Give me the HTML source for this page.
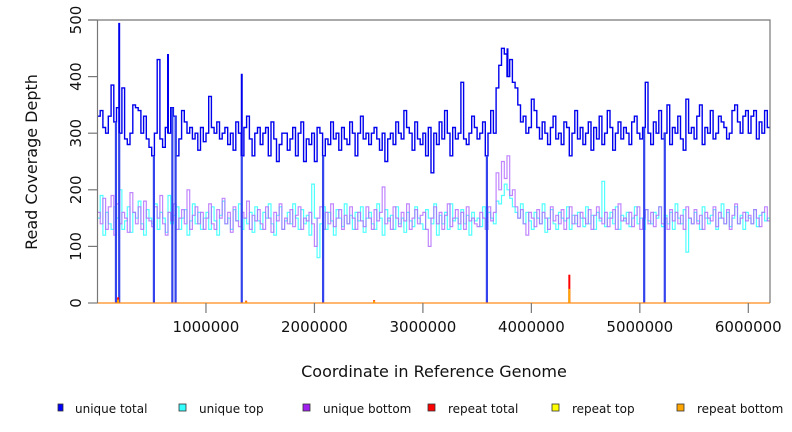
<!DOCTYPE html>
<html><head><meta charset="utf-8"><style>
html,body{margin:0;padding:0;background:#fff;}
svg{display:block;font-family:"DejaVu Sans","Liberation Sans",sans-serif;}
</style></head><body>
<svg id="chart" width="792" height="432" viewBox="0 0 792 432"></svg>
<script>
const step = 25000;
const uniqueTotal = [330,340,310,300,330,385,320,345,300,380,290,280,300,350,345,340,300,330,290,275,
260,300,430,290,275,310,300,345,330,260,290,340,320,300,310,290,300,270,310,285,
300,365,310,300,320,290,300,310,280,300,270,320,300,260,310,330,290,260,300,310,
280,300,310,260,320,290,250,280,300,300,270,290,310,260,300,320,250,290,280,300,
250,310,300,260,290,280,320,290,300,270,310,290,280,320,300,260,300,330,290,300,
280,300,310,290,270,300,250,290,300,280,320,300,290,340,310,300,270,320,290,280,
300,260,310,230,300,280,320,290,340,300,260,310,290,300,390,290,280,300,330,310,
290,300,320,260,300,340,300,380,420,450,440,400,430,390,380,350,320,330,300,310,
360,340,310,290,320,300,280,310,330,290,300,280,320,310,260,300,340,290,310,280,
300,320,270,310,290,330,280,300,340,310,270,300,320,290,310,300,280,320,330,300,
290,310,390,300,280,320,300,340,290,300,350,280,310,300,330,290,270,360,300,310,
290,330,350,280,310,300,340,290,300,330,320,310,290,300,340,350,320,300,330,340,
300,330,340,290,320,300,340,310];
const uniqueTop = [150,190,120,160,140,130,170,150,200,130,145,170,125,160,150,180,140,120,165,150,
140,175,130,160,150,125,190,140,155,170,130,150,165,120,145,175,140,160,130,150,
160,130,170,145,120,155,180,140,150,130,165,145,175,130,150,140,160,125,170,145,
130,160,150,175,140,120,155,170,130,145,160,140,175,150,130,165,140,155,120,210,
150,80,140,170,130,160,145,120,165,150,135,175,140,155,130,160,145,170,125,150,
160,140,130,175,150,120,165,145,155,130,170,140,150,125,160,145,135,170,150,140,
130,165,150,140,175,120,155,140,160,130,175,145,150,130,165,140,155,120,160,145,
150,135,170,130,160,150,140,180,175,190,210,200,185,170,160,150,175,140,160,145,
130,160,150,140,175,125,150,165,140,130,160,150,145,170,130,155,140,160,150,135,
170,140,155,130,160,145,215,135,150,160,140,170,130,155,145,160,135,150,170,140,
150,130,165,145,140,160,150,170,135,155,140,160,130,175,150,140,165,90,150,140,
160,145,130,170,150,140,155,165,130,150,175,140,160,135,150,170,140,155,130,160,
150,140,165,135,155,160,145,150];
const uniqueBottom = [160,140,185,130,170,190,120,175,140,160,150,125,195,160,140,170,130,180,150,145,
135,170,150,190,140,120,160,145,175,130,150,165,140,200,130,155,170,140,160,130,
150,175,140,130,165,150,185,140,160,125,170,145,135,160,150,180,130,155,145,165,
140,130,170,150,125,160,145,175,130,150,140,165,135,155,170,130,150,145,160,140,
100,150,170,130,160,140,175,135,150,165,130,155,140,170,150,130,160,145,135,170,
150,130,165,145,160,205,140,150,130,170,150,135,160,145,175,130,150,165,140,155,
160,130,100,150,170,140,160,130,155,175,135,150,165,140,160,130,170,145,150,140,
135,160,150,130,170,145,160,230,200,250,220,260,190,200,170,150,165,140,120,160,
150,135,165,140,160,150,130,170,145,155,140,165,130,150,170,140,155,135,160,150,
140,165,130,155,170,150,140,160,135,150,165,130,175,145,150,140,160,135,155,170,
130,150,165,140,160,135,155,170,140,150,130,165,145,160,140,155,130,170,150,140,
165,140,155,130,160,150,145,170,135,160,150,140,165,130,155,175,140,150,160,145,
155,140,165,150,135,160,170,145];
const dropX = [170000,200000,520000,690000,720000,1330000,2080000,3590000,5040000,5230000];
const spikeX = [200000,650000,1330000,3780000];
const spikeV = [495,440,405,450];
const repeatX = [190000,1370000,2550000,4350000];
const repeatV = [10,4,5,50];
const repeatBottomV = [6,3,4,25];
const xTicks = [1000000,2000000,3000000,4000000,5000000,6000000];
const yTicks = [0,100,200,300,400,500];

const svg = document.getElementById('chart');
const NS = 'http://www.w3.org/2000/svg';
const L=97.5, R=770, T=20, B=303, XMAX=6200000, YMAX=500;
const sx = v => L + (v/XMAX)*(R-L);
const sy = v => B - (v/YMAX)*(B-T);
function mk(tag, attrs, parent){const e=document.createElementNS(NS,tag);for(const k in attrs)e.setAttribute(k,attrs[k]);(parent||svg).appendChild(e);return e;}

function stepPath(arr){let d='';for(let i=0;i<arr.length;i++){const x0=sx(i*step),x1=sx(Math.min((i+1)*step,XMAX)),y=sy(arr[i]);d+=(i===0?'M':'L')+x0.toFixed(1)+','+y.toFixed(1)+'L'+x1.toFixed(1)+','+y.toFixed(1);}return d;}

let p=mk('path',{d:stepPath(uniqueTop),fill:'none',stroke:'#33ffff','stroke-width':1.2,opacity:0.85});

p=mk('path',{d:stepPath(uniqueBottom),fill:'none',stroke:'#b266ff','stroke-width':1.2,opacity:0.8});

p=mk('path',{d:stepPath(uniqueTotal),fill:'none',stroke:'#0000ee','stroke-width':1.4});


dropX.forEach(x=>{const i=Math.floor(x/step);const l=mk('line',{x1:sx(x),x2:sx(x),y1:sy(uniqueTotal[i]),y2:sy(0),stroke:'#3344ee','stroke-width':2.2});
});
spikeX.forEach((x,k)=>{const i=Math.floor(x/step);const l=mk('line',{x1:sx(x),x2:sx(x),y1:sy(spikeV[k]),y2:sy(uniqueTotal[i]),stroke:'#0000ee','stroke-width':2});
});

let z=mk('line',{x1:L,x2:R,y1:B,y2:B,stroke:'#ff8c1a','stroke-width':1.2});

repeatX.forEach((x,k)=>{let r=mk('line',{x1:sx(x),x2:sx(x),y1:sy(repeatV[k]),y2:B,stroke:'#ff0000','stroke-width':2});

let o=mk('line',{x1:sx(x),x2:sx(x),y1:sy(repeatBottomV[k]),y2:B,stroke:'#ffa500','stroke-width':2});
});

let f=mk('path',{d:`M88,${T}H${R}V${B}M${L},${T}V${B}`,fill:'none',stroke:'#777','stroke-width':1.2});


yTicks.forEach(v=>{const y=sy(v);let t=mk('line',{x1:88,x2:L,y1:y,y2:y,stroke:'#777','stroke-width':1.2});

let tx=mk('text',{x:76,y:y,'font-size':15,'text-anchor':'middle',transform:`rotate(-90 76 ${y})`,'dominant-baseline':'central',fill:'#111'});
tx.textContent=v;});
xTicks.forEach(v=>{const x=sx(v);let t=mk('line',{x1:x,x2:x,y1:B,y2:313,stroke:'#777','stroke-width':1.2});

let tx=mk('text',{x:x,y:332,'font-size':15,'text-anchor':'middle',fill:'#111'});
tx.textContent=v;});

let yt=mk('text',{x:37,y:162,'font-size':16,'text-anchor':'middle',transform:'rotate(-90 37 162)',fill:'#111'});
yt.textContent='Read Coverage Depth';
let xt=mk('text',{x:434,y:377,'font-size':16,'text-anchor':'middle',fill:'#111'});
xt.textContent='Coordinate in Reference Genome';

const legendNames=['unique total','unique top','unique bottom','repeat total','repeat top','repeat bottom'];
const legendColors=['#0000ff','#33ffff','#a020f0','#ff0000','#ffff00','#ffa500'];
legendNames.forEach((n,k)=>{const x=[57,179,303,428,552,677][k];
let r=mk('rect',{x:x+(k===0?1:0),y:404,width:k===0?5:7,height:7,fill:legendColors[k],stroke:'#333','stroke-width':0.8});

let t=mk('text',{x:x+18+(k===0?0:2),y:413,'font-size':12,fill:'#111'});t.textContent=n;
});
</script>
</body></html>
